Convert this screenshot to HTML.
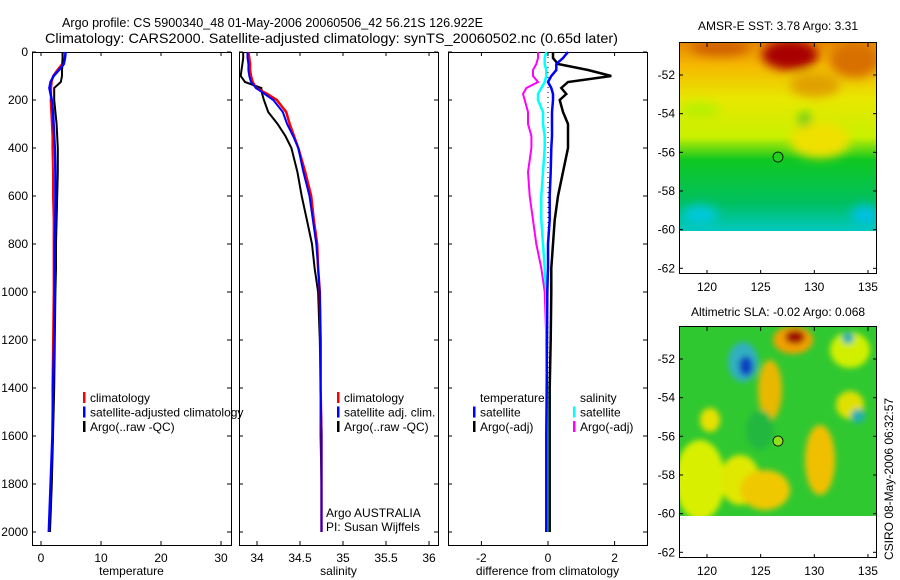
<!DOCTYPE html>
<html><head><meta charset="utf-8">
<style>
body{margin:0;background:#fff;}
svg{display:block;font-family:"Liberation Sans",sans-serif;}
text{font-size:12px;fill:#000;}
</style></head>
<body>
<svg id="fig" width="900" height="580" viewBox="0 0 900 580" xmlns="http://www.w3.org/2000/svg">
<defs>
<filter id="blur" x="-20%" y="-20%" width="140%" height="140%"><feGaussianBlur stdDeviation="5"/></filter>
<filter id="blur2" x="-20%" y="-20%" width="140%" height="140%"><feGaussianBlur stdDeviation="3"/></filter>
<clipPath id="c1"><rect x="680" y="43" width="197" height="188"/></clipPath>
<clipPath id="c2"><rect x="680" y="327" width="197" height="189"/></clipPath>
<linearGradient id="sstg" x1="0" y1="0" x2="0" y2="1">
<stop offset="0" stop-color="#e88a00"/><stop offset="0.12" stop-color="#f5b800"/><stop offset="0.3" stop-color="#e8e800"/><stop offset="0.5" stop-color="#c8f000"/><stop offset="0.62" stop-color="#10c820"/><stop offset="0.85" stop-color="#00c060"/><stop offset="1" stop-color="#00c8c0"/>
</linearGradient>
</defs>
<text x="62" y="27" textLength="421" lengthAdjust="spacingAndGlyphs" style="font-size:13px">Argo profile: CS 5900340_48 01-May-2006 20060506_42 56.21S 126.922E</text>
<text x="45" y="43" textLength="573" lengthAdjust="spacingAndGlyphs" style="font-size:14px">Climatology: CARS2000. Satellite-adjusted climatology: synTS_20060502.nc (0.65d later)</text>
<g id="panels"></g>

<g>
<text x="778" y="30" text-anchor="middle">AMSR-E SST: 3.78 Argo: 3.31</text>
<g clip-path="url(#c1)">
<rect x="680" y="43" width="197" height="188" fill="url(#sstg)"/>
<g filter="url(#blur)">
<ellipse cx="790" cy="55" rx="28" ry="15" fill="#a80000"/>
<ellipse cx="720" cy="48" rx="30" ry="8" fill="#d06000"/>
<ellipse cx="855" cy="60" rx="25" ry="18" fill="#d87000"/>
<ellipse cx="815" cy="85" rx="25" ry="12" fill="#e0a000"/>
<ellipse cx="805" cy="123" rx="6" ry="10" fill="#10c020"/>
<ellipse cx="700" cy="110" rx="20" ry="8" fill="#b8f000"/>
<ellipse cx="700" cy="215" rx="18" ry="10" fill="#00c8d8"/>
<ellipse cx="865" cy="215" rx="14" ry="10" fill="#00c0e0"/>
<ellipse cx="820" cy="140" rx="30" ry="18" fill="#f0e000"/>
</g>
</g>
<circle cx="778" cy="157" r="5" fill="#20d020" stroke="#000" stroke-width="0.8"/>
<rect x="679.5" y="42.5" width="197" height="231" fill="none" stroke="#000"/>
<g id="sstaxes"></g>
</g>

<g>
<text x="778" y="316" text-anchor="middle">Altimetric SLA: -0.02 Argo: 0.068</text>
<g clip-path="url(#c2)">
<rect x="680" y="327" width="197" height="189" fill="#30c830"/>
<g filter="url(#blur2)">
<ellipse cx="700" cy="480" rx="25" ry="40" fill="#d8f000"/>
<ellipse cx="740" cy="480" rx="20" ry="25" fill="#e0e800"/>
<ellipse cx="765" cy="490" rx="25" ry="20" fill="#f0c800"/>
<ellipse cx="710" cy="420" rx="10" ry="12" fill="#e8e000"/>
<ellipse cx="820" cy="460" rx="15" ry="35" fill="#f0c000"/>
<ellipse cx="850" cy="350" rx="20" ry="18" fill="#d0f000"/>
<ellipse cx="850" cy="405" rx="14" ry="14" fill="#e0e000"/>
<ellipse cx="770" cy="390" rx="12" ry="30" fill="#e8b800"/>
<ellipse cx="760" cy="430" rx="14" ry="20" fill="#20b840"/>
<ellipse cx="793" cy="340" rx="20" ry="14" fill="#f0a000"/>
<ellipse cx="795" cy="337" rx="10" ry="7" fill="#a01000"/>
<ellipse cx="743" cy="362" rx="15" ry="20" fill="#30b0c0"/>
<ellipse cx="746" cy="366" rx="7" ry="10" fill="#1040c0"/>
<ellipse cx="858" cy="416" rx="7" ry="7" fill="#20b0b0"/>
<ellipse cx="848" cy="338" rx="6" ry="6" fill="#20b0b0"/>
</g>
</g>
<circle cx="778" cy="441" r="5" fill="#90e020" stroke="#000" stroke-width="0.8"/>
<rect x="679.5" y="326.5" width="197" height="231" fill="none" stroke="#000"/>
<g id="slaaxes"></g>
</g>
<text transform="translate(893,560) rotate(-90)">CSIRO 08-May-2006 06:32:57</text>
</svg>
<script>
const depths=[0,25,50,75,100,125,150,175,200,250,300,350,400,500,600,700,800,900,1000,1200,1400,1600,1800,2000];
const tClim=[3.6,3.6,3.5,2.7,2.0,1.8,1.7,1.7,1.6,1.7,1.8,1.9,1.9,2.0,2.0,2.1,2.1,2.1,2.1,2.0,1.9,2.0,1.7,1.4];
const tSat=[4.1,4.0,3.8,3.0,2.1,1.6,1.4,1.6,1.8,2.0,2.1,2.2,2.3,2.4,2.4,2.4,2.3,2.3,2.3,2.2,2.0,1.9,1.6,1.3];
const tArgo=[3.6,3.6,3.6,3.5,3.5,3.3,2.2,2.2,2.2,2.4,2.6,2.7,2.8,2.8,2.7,2.6,2.5,2.5,2.4,2.3,2.2,2.0,1.8,1.5];
const sClim=[33.9,33.91,33.92,33.92,33.93,33.95,33.99,34.12,34.23,34.34,34.38,34.43,34.48,34.56,34.63,34.66,34.70,34.71,34.73,34.74,34.74,34.75,34.75,34.75];
const sSat=[33.89,33.89,33.9,33.9,33.91,33.93,33.99,34.09,34.19,34.30,34.35,34.42,34.48,34.54,34.61,34.65,34.69,34.71,34.73,34.74,34.74,34.75,34.75,34.75];
const sArgo=[33.84,33.84,33.83,33.82,33.81,33.86,34.05,34.06,34.08,34.13,34.24,34.33,34.40,34.47,34.52,34.58,34.64,34.67,34.71,34.73,34.74,34.74,34.75,34.75];
const dTempArgo=[0.15,0.15,0.3,1.2,1.9,0.6,0.4,0.55,0.35,0.45,0.6,0.6,0.6,0.45,0.3,0.2,0.15,0.1,0.1,0.08,0.05,0.05,0.05,0.05];
const dTempSat=[0.6,0.45,0.25,0.25,0.1,0.0,0.1,0.15,0.15,0.12,0.12,0.12,0.1,0.08,0.05,0.05,0.0,0.0,-0.02,-0.03,-0.04,-0.05,-0.05,-0.05];
const dSalSat=[-0.05,-0.1,-0.1,-0.05,-0.05,-0.1,-0.2,-0.3,-0.3,-0.15,-0.15,-0.1,-0.1,-0.15,-0.2,-0.2,-0.15,-0.1,-0.05,-0.05,-0.03,-0.02,-0.01,0];
const dSalArgo=[-0.3,-0.3,-0.35,-0.45,-0.45,-0.3,-0.65,-0.75,-0.7,-0.6,-0.6,-0.5,-0.5,-0.6,-0.55,-0.45,-0.35,-0.2,-0.1,-0.05,-0.03,-0.02,-0.02,-0.02];
const depthTicks=[0,200,400,600,800,1000,1200,1400,1600,1800,2000];
const tempTicks=[0,10,20,30];
const salTicks=[34,34.5,35,35.5,36];
const diffTicks=[-2,0,2];
const lonTicks=[120,125,130,135];
const latTicks=[-52,-54,-56,-58,-60,-62];

const NS='http://www.w3.org/2000/svg';
const root=document.getElementById('panels');
function mk(tag,attrs,parent){const e=document.createElementNS(NS,tag);for(const k in attrs)e.setAttribute(k,attrs[k]);(parent||root).appendChild(e);return e;}
const yD=d=>52+d*0.24;
const yTop=52,yBot=545;
const panels=[
 {name:'temperature',x0:32,x1:231,fx:v=>41+6*v,ticks:tempTicks,label:'temperature',yl:true},
 {name:'salinity',x0:239,x1:438,fx:v=>257+86*(v-34),ticks:salTicks,label:'salinity',yl:false},
 {name:'difference',x0:448,x1:647,fx:v=>548+33.3*v,ticks:diffTicks,label:'difference from climatology',yl:false}
];
panels.forEach(p=>{
 const g=mk('g',{});
 
 
 p.g=g;
 const fr=mk('rect',{x:p.x0+0.5,y:yTop+0.5,width:p.x1-p.x0,height:yBot-yTop,fill:'none',stroke:'#000'},g);
 
 
 p.ticks.forEach(t=>{
  const x=p.fx(t);
  mk('line',{x1:x,x2:x,y1:yBot,y2:yBot-4,stroke:'#000'},g);
  mk('line',{x1:x,x2:x,y1:yTop,y2:yTop+4,stroke:'#000'},g);
  const tx=mk('text',{x:x,y:yBot+17,'text-anchor':'middle'},g);
  tx.textContent=String(t);
  
  
 });
 depthTicks.forEach(d=>{
  const y=yD(d);
  mk('line',{x1:p.x0,x2:p.x0+4,y1:y,y2:y,stroke:'#000'},g);
  mk('line',{x1:p.x1-4,x2:p.x1,y1:y,y2:y,stroke:'#000'},g);
  if(p.yl){const tx=mk('text',{x:p.x0-4,y:y+4,'text-anchor':'end'},g);tx.textContent=String(d);
   
   }
 });
 const xl=mk('text',{x:(p.x0+p.x1)/2,y:575,'text-anchor':'middle'},g);
 xl.textContent=p.label;
 
 
});
function line(p,vals,color,w,name){
 let d='';
 vals.forEach((v,i)=>{const x=p.fx(v),y=yD(depths[i]);d+=(i?'L':'M')+x.toFixed(1)+' '+y.toFixed(1);});
 const e=mk('path',{d:d,fill:'none',stroke:color,'stroke-width':w},p.g);
 
 
}
const pT=panels[0],pS=panels[1],pD=panels[2];
line(pT,tClim,'#f00',2,'temp-climatology-line');
line(pT,tArgo,'#000',2,'temp-argo-line');
line(pT,tSat,'#00f',2.5,'temp-satellite-line');
line(pS,sArgo,'#000',2,'sal-argo-line');
line(pS,sClim,'#f00',2.5,'sal-climatology-line');
line(pS,sSat,'#00f',2,'sal-satellite-line');
const zl=mk('line',{x1:pD.fx(0),x2:pD.fx(0),y1:yTop,y2:yD(2000),stroke:'#000','stroke-dasharray':'1 4'},pD.g);


line(pD,dSalArgo,'#f0f',2,'diff-sal-argo-line');
line(pD,dSalSat,'#0ff',2.5,'diff-sal-satellite-line');
line(pD,dTempArgo,'#000',2.5,'diff-temp-argo-line');
line(pD,dTempSat,'#00f',2.5,'diff-temp-satellite-line');
function legend(g,x,y,items,prefix){
 items.forEach((it,i)=>{
  const yy=y+i*14.5;
  if(it[1]){const m=mk('rect',{x:x,y:yy-10,width:2.5,height:11,fill:it[1]},g);
   
   }
  const t=mk('text',{x:x+7,y:yy},g);t.textContent=it[0];
  
  
 });
}
legend(pT.g,83,402,[['climatology','#f00'],['satellite-adjusted climatology','#00f'],['Argo(..raw -QC)','#000']],'temp');
legend(pS.g,337,402,[['climatology','#f00'],['satellite adj. clim.','#00f'],['Argo(..raw -QC)','#000']],'sal');
legend(pD.g,473,402,[['temperature',null],['satellite','#00f'],['Argo(-adj)','#000']],'diff-temp');
legend(pD.g,573,402,[['salinity',null],['satellite','#0ff'],['Argo(-adj)','#f0f']],'diff-sal');
const cr=mk('text',{x:326,y:517},pS.g);cr.textContent='Argo AUSTRALIA';


const pi=mk('text',{x:326,y:531},pS.g);pi.textContent='PI: Susan Wijffels';


function mapAxes(gid,y0,prefix){
 const g=document.getElementById(gid);
 const lx=v=>707+(v-120)*10.73;
 const ly=v=>y0+(-52-v)*19.33;
 lonTicks.forEach(v=>{const x=lx(v);
  mk('line',{x1:x,x2:x,y1:y0-32,y2:y0-28,stroke:'#000'},g);
  mk('line',{x1:x,x2:x,y1:y0+199,y2:y0+195,stroke:'#000'},g);
  const t=mk('text',{x:x,y:y0+216,'text-anchor':'middle'},g);t.textContent=String(v);
  
  });
 latTicks.forEach(v=>{const y=ly(v);
  mk('line',{x1:679,x2:683,y1:y,y2:y,stroke:'#000'},g);
  mk('line',{x1:873,x2:877,y1:y,y2:y,stroke:'#000'},g);
  const t=mk('text',{x:675,y:y+4,'text-anchor':'end'},g);t.textContent=String(v);
  
  });
}
mapAxes('sstaxes',75,'sst');
mapAxes('slaaxes',359,'sla');
</script>
</body></html>
